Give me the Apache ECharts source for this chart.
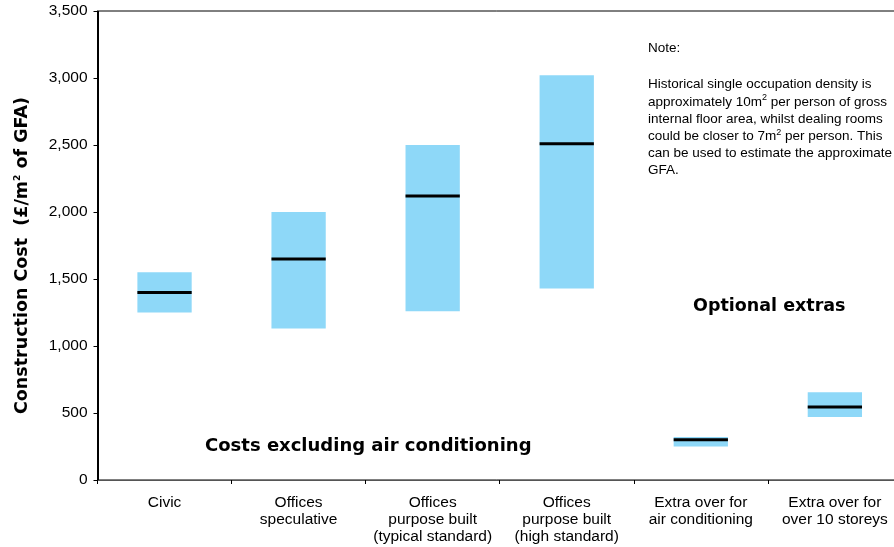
<!DOCTYPE html>
<html>
<head>
<meta charset="utf-8">
<script src="https://cdn.jsdelivr.net/npm/echarts@6/dist/echarts.min.js"></script>
<style>
  html, body { margin: 0; padding: 0; background: #fff; }
  #chart { width: 894px; height: 547px; }
</style>
</head>
<body>
<div id="chart"></div>
<script>
// Building types and their construction cost ranges (£/m² of GFA)
const categories = [
  'Civic',
  'Offices\nspeculative',
  'Offices\npurpose built\n(typical standard)',
  'Offices\npurpose built\n(high standard)',
  'Extra over for\nair conditioning',
  'Extra over for\nover 10 storeys'
];
const lowValues = [1250, 1130, 1260, 1430, 250, 470];
const highValues = [1550, 2000, 2500, 3020, 320, 655];
const medianValues = [1400, 1650, 2120, 2510, 300, 545];
const yTicks = [0, 500, 1000, 1500, 2000, 2500, 3000, 3500];

const FONT = '"Liberation Sans", Arial, sans-serif';
const HEAVY = '"DejaVu Sans", "Liberation Sans", sans-serif';

const rangeData = categories.map((c, i) => [i, lowValues[i], highValues[i], medianValues[i]]);

// Each category: a light-blue low–high range box with a black median bar
function renderRange(params, api) {
  const idx = api.value(0);
  const lo = api.coord([idx, api.value(1)]);
  const hi = api.coord([idx, api.value(2)]);
  const md = api.coord([idx, api.value(3)]);
  const w = api.size([1, 0])[0] * 0.405;
  return {
    type: 'group',
    children: [
      {
        type: 'rect',
        shape: { x: lo[0] - w / 2, y: hi[1], width: w, height: lo[1] - hi[1] },
        style: { fill: '#8ED8F8' }
      },
      {
        type: 'line',
        shape: { x1: md[0] - w / 2, y1: md[1], x2: md[0] + w / 2, y2: md[1] },
        style: { stroke: '#000', lineWidth: 3 }
      }
    ]
  };
}

const chart = echarts.init(document.getElementById('chart'));
chart.setOption({
  backgroundColor: '#fff',
  animation: false,
  grid: {
    left: 97.5, top: 11, width: 804.4, height: 469,
    outerBoundsMode: 'none', containLabel: false,
    show: true, borderColor: '#000', borderWidth: 1, backgroundColor: 'transparent'
  },
  xAxis: {
    type: 'category',
    data: categories,
    boundaryGap: true,
    axisLine: { lineStyle: { color: '#555', width: 1 } },
    axisTick: { show: true, length: 4, lineStyle: { color: '#000' } },
    axisLabel: {
      color: '#000', fontFamily: FONT, fontSize: 15.5, lineHeight: 17,
      margin: 14, interval: 0
    },
    splitLine: {
      show: true,
      interval: (i) => i === 4,
      lineStyle: { color: '#000', width: 2 }
    }
  },
  yAxis: {
    type: 'value',
    min: yTicks[0],
    max: yTicks[yTicks.length - 1],
    interval: 500,
    axisLine: { show: true, lineStyle: { color: '#000', width: 1 } },
    axisTick: { show: true, length: 4, lineStyle: { color: '#000' } },
    splitLine: { show: false },
    axisLabel: {
      color: '#000', fontFamily: FONT, fontSize: 15.5, margin: 10,
      formatter: (v) => v.toLocaleString('en-GB')
    },
    name: '{t|Construction Cost  (£/m}{s|2}{t| of GFA)}',
    nameLocation: 'middle',
    nameRotate: 90,
    nameGap: 66,
    nameTextStyle: {
      padding: [0, 20, 0, 0],
      rich: {
        t: { fontFamily: HEAVY, fontWeight: 'bold', fontSize: 17.5, color: '#000' },
        s: { fontFamily: HEAVY, fontWeight: 'bold', fontSize: 9, color: '#000', verticalAlign: 'top' }
      }
    }
  },
  series: [{
    type: 'custom',
    renderItem: renderRange,
    encode: { x: 0, y: [1, 2, 3] },
    data: rangeData
  }],
  graphic: [
    {
      type: 'text', left: 205, top: 437,
      style: { text: 'Costs excluding air conditioning', font: 'bold 18px ' + HEAVY, fill: '#000' }
    },
    {
      type: 'text', left: 693, top: 297,
      style: { text: 'Optional extras', font: 'bold 17.5px ' + HEAVY, fill: '#000' }
    },
    {
      type: 'text', left: 648, top: 41,
      style: { text: 'Note:', font: '13.5px ' + FONT, fill: '#000' }
    },
    {
      type: 'text', left: 648, top: 76,
      style: {
        text: 'Historical single occupation density is\n' +
              'approximately 10m{s|2} per person of gross\n' +
              'internal floor area, whilst dealing rooms\n' +
              'could be closer to 7m{s|2} per person. This\n' +
              'can be used to estimate the approximate\n' +
              'GFA.',
        font: '13.5px ' + FONT,
        fill: '#000',
        lineHeight: 17.2,
        rich: {
          s: { fontFamily: FONT, fontSize: 9, fill: '#000', verticalAlign: 'top', lineHeight: 17.2 }
        }
      }
    }
  ]
});
</script>
</body>
</html>
